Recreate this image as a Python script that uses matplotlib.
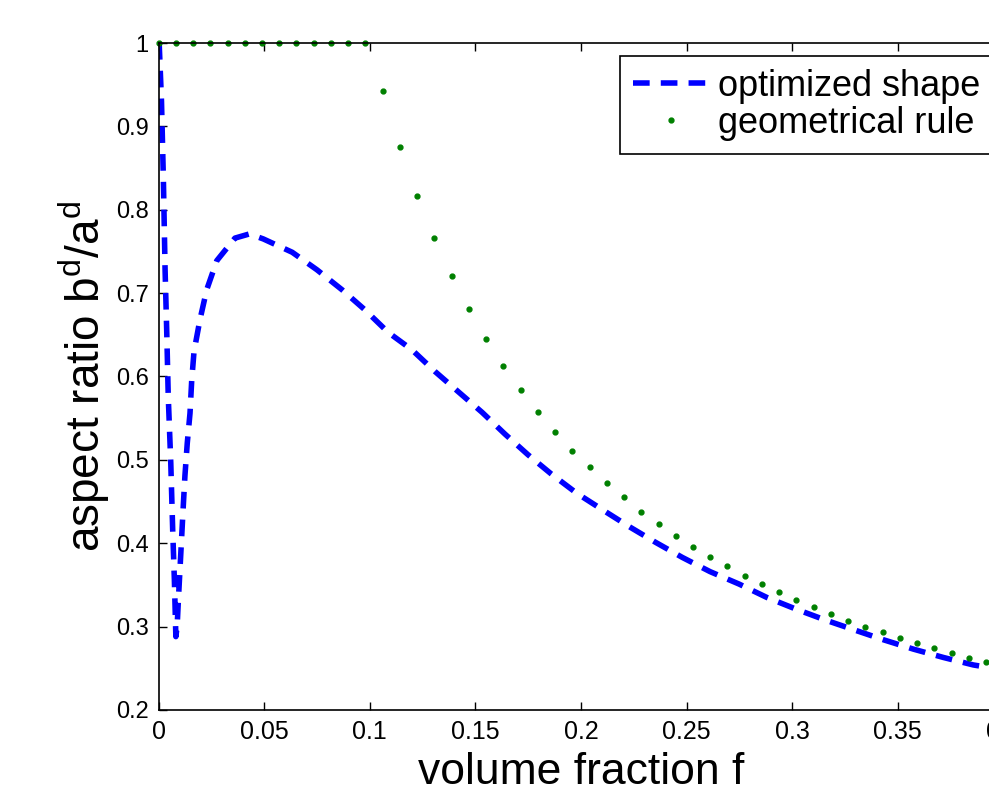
import numpy as np
import matplotlib.pyplot as plt

plt.rcParams['font.family'] = ['Liberation Sans', 'DejaVu Sans']
plt.rcParams['mathtext.fontset'] = 'custom'
plt.rcParams['mathtext.rm'] = 'Liberation Sans'
plt.rcParams['mathtext.it'] = 'Liberation Sans'

# optimized shape: aspect ratio vs volume fraction
f_opt = [0.0003, 0.0014, 0.0023, 0.0031, 0.0039, 0.0046, 0.0058, 0.0067, 0.0075,
         0.0082, 0.0088, 0.0094, 0.0102, 0.0117, 0.0125, 0.0136, 0.0149, 0.0157,
         0.0168, 0.0196, 0.0228, 0.0276, 0.0362, 0.043, 0.0496, 0.0633, 0.075,
         0.0869, 0.0977, 0.1087, 0.12, 0.1309, 0.1418, 0.1532, 0.164, 0.175,
         0.186, 0.198, 0.2103, 0.2228, 0.2354, 0.248, 0.2611, 0.2749, 0.288,
         0.3018, 0.3156, 0.3295, 0.3435, 0.3574, 0.3716, 0.3858, 0.4]
ar_opt = [1.0, 0.93, 0.836, 0.728, 0.652, 0.576, 0.496, 0.416, 0.356,
          0.288, 0.300, 0.332, 0.371, 0.444, 0.481, 0.52, 0.556, 0.595,
          0.63, 0.668, 0.704, 0.739, 0.766, 0.771, 0.765, 0.749, 0.728,
          0.704, 0.680, 0.653, 0.632, 0.606, 0.582, 0.557, 0.531, 0.506,
          0.483, 0.46, 0.44, 0.42, 0.401, 0.383, 0.366, 0.351, 0.335,
          0.321, 0.308, 0.296, 0.284, 0.273, 0.263, 0.254, 0.248]

# geometrical rule, 50 samples on [0, 0.4]
f_geo = np.linspace(0, 0.4, 50)
ar_geo = [1.0] * 13 + [0.942, 0.875, 0.817, 0.766, 0.721, 0.681, 0.645, 0.613,
                       0.584, 0.558, 0.533, 0.511, 0.491, 0.472, 0.455, 0.438,
                       0.423, 0.409, 0.396, 0.384, 0.373, 0.361, 0.351, 0.341,
                       0.332, 0.323, 0.315, 0.307, 0.300, 0.293, 0.286, 0.280,
                       0.274, 0.268, 0.262, 0.257, 0.252]

xticks = np.arange(0, 0.401, 0.05)
xticklabels = ['0', '0.05', '0.1', '0.15', '0.2', '0.25', '0.3', '0.35', '0.4']
yticks = np.arange(0.2, 1.001, 0.1)
yticklabels = ['0.2', '0.3', '0.4', '0.5', '0.6', '0.7', '0.8', '0.9', '1']

fig = plt.figure(figsize=(9.89, 7.98), dpi=100)
ax = fig.add_axes([0.1603, 0.1103, 0.8542, 0.8358])

ax.plot(f_opt, ar_opt, color='blue', lw=4, linestyle=(0, (3, 2)),
        label='optimized shape')
ax.plot(f_geo, ar_geo, 'o', color='green', ms=3.5, mec='green',
        label='geometrical rule', clip_on=False)

ax.set_xlim(0, 0.4)
ax.set_ylim(0.2, 1)
ax.set_xticks(xticks)
ax.set_xticklabels(xticklabels, fontsize=18)
ax.set_yticks(yticks)
ax.set_yticklabels(yticklabels, fontsize=17)
ax.tick_params(direction='in', length=6, width=1, top=True, right=True, pad=7)
for s in ax.spines.values():
    s.set_linewidth(1.2)

ax.set_xlabel('volume fraction f', fontsize=32, labelpad=6)
ax.set_ylabel(r'aspect ratio b$^{\mathrm{d}}$/a$^{\mathrm{d}}$', fontsize=33, labelpad=3)

leg = ax.legend(loc='upper right', bbox_to_anchor=(993 / 989, 1 - 56 / 798),
                bbox_transform=fig.transFigure, borderaxespad=0,
                fontsize=26, handlelength=2.1, handletextpad=0.25,
                numpoints=1, fancybox=False, framealpha=1, labelspacing=0.05,
                borderpad=0.36)
leg.get_frame().set_edgecolor('black')
leg.get_frame().set_linewidth(1.2)

fig.savefig('out.png', dpi=100)
